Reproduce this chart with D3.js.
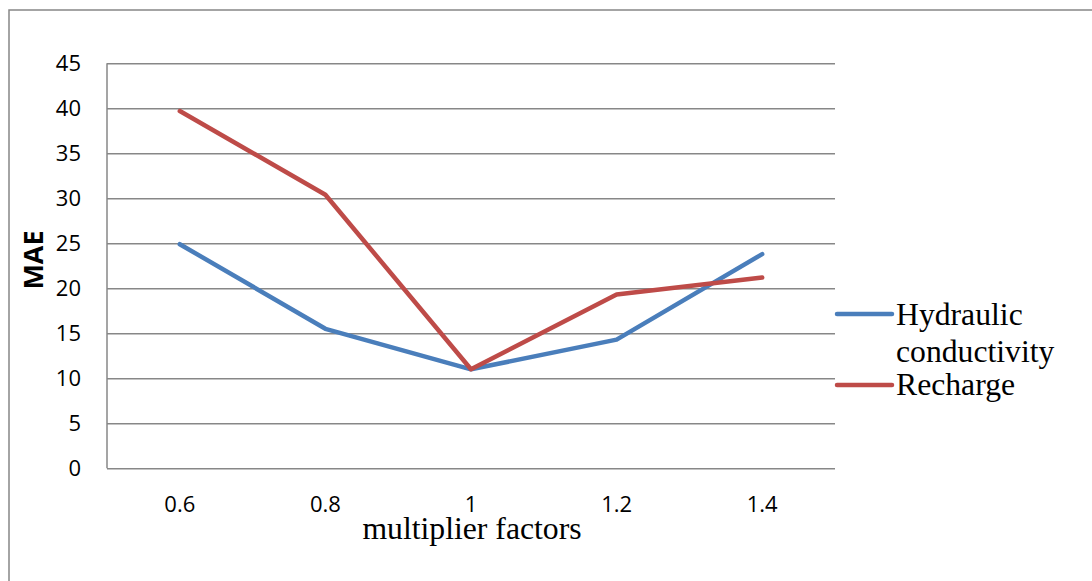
<!DOCTYPE html>
<html>
<head>
<meta charset="utf-8">
<script src="https://cdn.jsdelivr.net/npm/d3@7"></script>
<style>
  html, body { margin: 0; padding: 0; background: #fff; }
  svg { display: block; }
</style>
</head>
<body>
<svg id="chart" width="1092" height="581"></svg>
<script>
const categories = ["0.6", "0.8", "1", "1.2", "1.4"];
const hydraulic = [24.9, 15.5, 11.0, 14.3, 23.8];
const recharge = [39.7, 30.4, 11.0, 19.3, 21.2];
const yTicks = [0, 5, 10, 15, 20, 25, 30, 35, 40, 45];
const seriesNames = ["Hydraulic conductivity", "Recharge"];

(function () {
const svg = d3.select("#chart");
const pLeft = 107, pRight = 835, pTop = 63.3, pBottom = 468.3;
const gridColor = "#878787";
const tickFont = "'Open Sans', sans-serif";
const tickSize = 22;

// outer frame
svg.append("rect")
  .attr("x", 9).attr("y", 10)
  .attr("width", 1200).attr("height", 700)
  .attr("fill", "none").attr("stroke", gridColor).attr("stroke-width", 1.5);

const x = d3.scaleBand().domain(categories).range([pLeft, pRight]).padding(0);
const y = d3.scaleLinear().domain([0, 45]).range([pBottom, pTop]);

// y axis with gridlines
const yAxis = svg.append("g")
  .attr("transform", `translate(${pLeft},0)`)
  .call(d3.axisLeft(y).tickValues(yTicks).tickSize(-(pRight - pLeft)).tickPadding(26));
yAxis.select(".domain").remove();
yAxis.selectAll(".tick line").attr("stroke", gridColor).attr("stroke-width", 1.5);
yAxis.selectAll(".tick text")
  .attr("font-family", tickFont)
  .attr("font-size", tickSize).attr("fill", "#000");

// left axis line
svg.append("line")
  .attr("x1", pLeft).attr("x2", pLeft).attr("y1", pTop).attr("y2", pBottom)
  .attr("stroke", gridColor).attr("stroke-width", 1.5);

// x axis
const xAxis = svg.append("g")
  .attr("transform", `translate(0,${pBottom})`)
  .call(d3.axisBottom(x).tickSize(0).tickPadding(28));
xAxis.select(".domain").remove();
xAxis.selectAll(".tick text")
  .attr("font-family", tickFont)
  .attr("font-size", tickSize).attr("fill", "#000");

// lines
const line = d3.line()
  .x((d, i) => x(categories[i]) + x.bandwidth() / 2)
  .y(d => y(d));
const colors = ["#4A7EBB", "#BE4B48"];
[hydraulic, recharge].forEach((s, k) => {
  svg.append("path").datum(s)
    .attr("d", line)
    .attr("fill", "none")
    .attr("stroke", colors[k])
    .attr("stroke-width", 4.5)
    .attr("stroke-linejoin", "round")
    .attr("stroke-linecap", "round");
});

// axis titles
svg.append("text")
  .attr("transform", "translate(43,260) rotate(-90)")
  .attr("text-anchor", "middle")
  .attr("font-family", tickFont)
  .attr("font-weight", "bold")
  .attr("font-size", 27)
  .text("MAE");

const serif = "'Liberation Serif', 'Times New Roman', serif";
const serifSize = 31.7;
svg.append("text")
  .attr("x", 472).attr("y", 539)
  .attr("text-anchor", "middle")
  .attr("font-family", serif)
  .attr("font-size", serifSize)
  .text("multiplier factors");

// legend
const lg = svg.append("g");
lg.append("line").attr("x1", 837).attr("x2", 892).attr("y1", 314).attr("y2", 314)
  .attr("stroke", colors[0]).attr("stroke-width", 4.5).attr("stroke-linecap", "round");
lg.append("line").attr("x1", 837).attr("x2", 892).attr("y1", 385).attr("y2", 385)
  .attr("stroke", colors[1]).attr("stroke-width", 4.5).attr("stroke-linecap", "round");
const words = seriesNames[0].split(" ");
lg.append("text").attr("x", 896).attr("y", 325)
  .attr("font-family", serif).attr("font-size", serifSize).text(words[0]);
lg.append("text").attr("x", 896).attr("y", 361.5)
  .attr("font-family", serif).attr("font-size", serifSize).text(words[1]);
lg.append("text").attr("x", 896).attr("y", 395)
  .attr("font-family", serif).attr("font-size", serifSize).text(seriesNames[1]);
})();
</script>
</body>
</html>
